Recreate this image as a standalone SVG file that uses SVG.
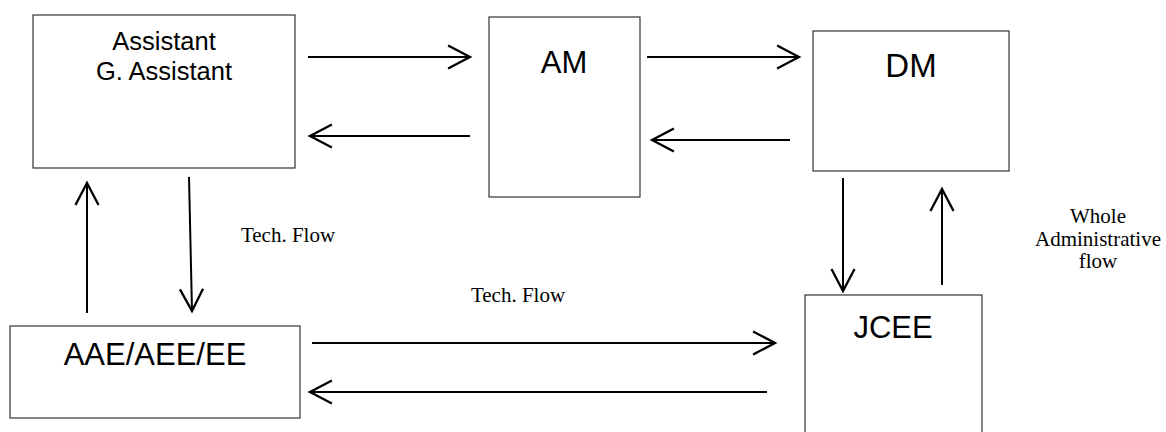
<svg xmlns="http://www.w3.org/2000/svg" width="1166" height="432" viewBox="0 0 1166 432">
  <style>
    .box { fill: #ffffff; stroke: #333333; stroke-width: 1.2; }
    .lbl { font-family: "Liberation Sans", Arial, sans-serif; fill: #000000; text-anchor: middle; }
    .note { font-family: "Liberation Serif", "Times New Roman", serif; font-size: 21px; fill: #000000; text-anchor: middle; }
    .flow { fill: none; stroke: #000000; stroke-width: 2; marker-end: url(#head); }
  </style>
  <defs>
    <marker id="head" markerUnits="userSpaceOnUse" markerWidth="30" markerHeight="30" refX="0" refY="0" viewBox="-22 -13 26 26" orient="auto">
      <path d="M-19,-10 L0,0 L-19,10" fill="none" stroke="#000000" stroke-width="2"/>
    </marker>
  </defs>
  <rect width="1166" height="432" fill="#ffffff"/>

  <g id="assistant">
    <rect class="box" x="33" y="15" width="262" height="153"/>
    <text class="lbl" font-size="25.5" x="164" y="50">Assistant</text>
    <text class="lbl" font-size="25.5" x="164" y="80">G. Assistant</text>
  </g>

  <g id="am">
    <rect class="box" x="489" y="17" width="151" height="180"/>
    <text class="lbl" font-size="31" x="564" y="73">AM</text>
  </g>

  <g id="dm">
    <rect class="box" x="813" y="31" width="196" height="140"/>
    <text class="lbl" font-size="33" x="911" y="77">DM</text>
  </g>

  <g id="aae">
    <rect class="box" x="10" y="326" width="290" height="92"/>
    <text class="lbl" font-size="31" x="155" y="365">AAE/AEE/EE</text>
  </g>

  <g id="jcee">
    <rect class="box" x="805" y="295" width="177" height="150"/>
    <text class="lbl" font-size="31" x="893" y="338">JCEE</text>
  </g>

  <g id="connectors">
    <line class="flow" x1="308" y1="57" x2="470" y2="57"/>
    <line class="flow" x1="470" y1="136" x2="310" y2="136"/>
    <line class="flow" x1="647" y1="57" x2="799" y2="57"/>
    <line class="flow" x1="790" y1="140" x2="652" y2="140"/>
    <line class="flow" x1="87" y1="313" x2="87" y2="183"/>
    <line class="flow" x1="189" y1="177" x2="192" y2="311"/>
    <line class="flow" x1="843" y1="178" x2="843" y2="291"/>
    <line class="flow" x1="942" y1="285" x2="942" y2="189"/>
    <line class="flow" x1="312" y1="343" x2="775" y2="343"/>
    <line class="flow" x1="767" y1="392" x2="310" y2="392"/>
  </g>

  <g id="notes">
    <text class="note" x="288" y="242">Tech. Flow</text>
    <text class="note" x="518" y="302">Tech. Flow</text>
    <text class="note" x="1098" y="223">Whole</text>
    <text class="note" x="1098" y="246">Administrative</text>
    <text class="note" x="1098" y="268">flow</text>
  </g>
</svg>
